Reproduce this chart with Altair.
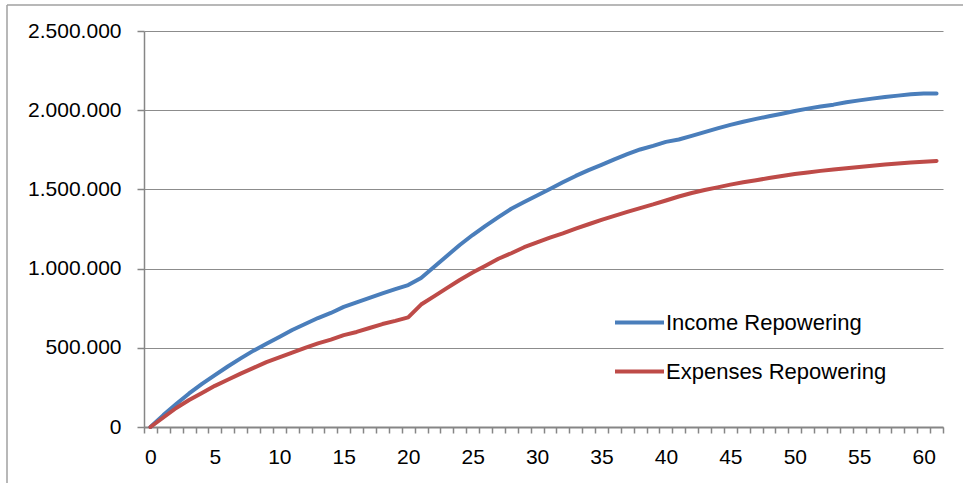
import altair as alt
import pandas as pd

# Year index of the project life (categories 0..61)
years = list(range(62))

# Cumulative income with repowering
income = [
    0, 75000, 145000, 212000, 272000, 328000, 382000, 433000, 482000, 526000,
    568000, 612000, 650000, 688000, 720000, 758000, 787000, 815000, 843000, 870000,
    896000, 941000, 1010000, 1080000, 1149000, 1212000, 1270000, 1325000, 1378000, 1420000,
    1462000, 1503000, 1545000, 1585000, 1622000, 1655000, 1690000, 1722000, 1752000, 1775000,
    1800000, 1815000, 1838000, 1862000, 1885000, 1907000, 1927000, 1945000, 1962000, 1978000,
    1995000, 2010000, 2023000, 2035000, 2050000, 2062000, 2073000, 2083000, 2092000, 2100000,
    2105000, 2106000,
]

# Cumulative expenses with repowering
expenses = [
    0, 60000, 120000, 170000, 215000, 260000, 298000, 337000, 373000, 410000,
    440000, 470000, 500000, 528000, 552000, 580000, 600000, 625000, 650000, 670000,
    692000, 773000, 825000, 877000, 928000, 975000, 1018000, 1062000, 1097000, 1135000,
    1165000, 1195000, 1222000, 1252000, 1280000, 1308000, 1333000, 1358000, 1382000, 1405000,
    1430000, 1455000, 1477000, 1496000, 1513000, 1530000, 1545000, 1558000, 1572000, 1585000,
    1597000, 1607000, 1617000, 1626000, 1634000, 1642000, 1650000, 1657000, 1664000, 1670000,
    1675000, 1680000,
]

series_names = ["Income Repowering", "Expenses Repowering"]
series_colors = ["#4A7EBB", "#BE4B48"]
y_ticks = [0, 500000, 1000000, 1500000, 2000000, 2500000]
x_label_step = 5

rows = []
for name, vals in zip(series_names, [income, expenses]):
    for yr, v in zip(years, vals):
        rows.append({"year": yr, "value": v, "series": name})
df = pd.DataFrame(rows)

FONT = "Liberation Sans"
AXIS_GREY = "#868686"

# category axis: ticks between categories, a label every 5th year
x_axis = alt.Axis(
    tickBand="extent",
    labelExpr=f"datum.value % {x_label_step} == 0 ? datum.label : ''",
    labelAngle=0,
    labelOverlap=False,
    labelBound=False,
    labelFlush=False,
    labelFont=FONT,
    labelFontSize=21,
    labelColor="#000000",
    labelPadding=13,
    tickSize=6,
    tickWidth=1.5,
    tickColor=AXIS_GREY,
    domainColor=AXIS_GREY,
    domainWidth=2,
    grid=False,
    title=None,
)

y_axis = alt.Axis(
    values=y_ticks,
    labelExpr="replace(replace(format(datum.value, ',d'), ',', '.'), ',', '.')",
    labelFont=FONT,
    labelFontSize=21,
    labelColor="#000000",
    labelPadding=16,
    tickSize=7,
    tickWidth=1.5,
    tickColor=AXIS_GREY,
    domainColor=AXIS_GREY,
    domainWidth=1.5,
    grid=True,
    gridColor="#8c8c8c",
    gridWidth=1.2,
    title=None,
)

lines = alt.Chart(df).mark_line(
    strokeWidth=4, strokeCap="round", strokeJoin="round"
).encode(
    x=alt.X(
        "year:O",
        scale=alt.Scale(type="band", paddingInner=0, paddingOuter=0),
        bandPosition=0.5,
        axis=x_axis,
    ),
    y=alt.Y(
        "value:Q",
        scale=alt.Scale(domain=[0, 2500000], nice=False),
        axis=y_axis,
    ),
    color=alt.Color(
        "series:N",
        scale=alt.Scale(domain=series_names, range=series_colors),
        sort=series_names,
        legend=alt.Legend(
            orient="none",
            legendX=469,
            legendY=265,
            title=None,
            symbolType="stroke",
            symbolSize=2401,
            symbolStrokeWidth=4,
            labelFont=FONT,
            labelFontSize=22,
            labelColor="#000000",
            labelOffset=0,
            labelLimit=0,
            rowPadding=11,
            padding=0,
        ),
    ),
    detail="series:N",
)

# light outer frame of the chart area
frame_df = pd.DataFrame({"k": [0]})
frame_left = alt.Chart(frame_df).mark_rule(color="#a0a0a0", strokeWidth=1.5).encode(
    x=alt.value(-137), y=alt.value(-26), y2=alt.value(460)
)
frame_top = alt.Chart(frame_df).mark_rule(color="#a0a0a0", strokeWidth=1.5).encode(
    x=alt.value(-137), x2=alt.value(830), y=alt.value(-26)
)

chart = alt.layer(frame_left, frame_top, lines).properties(
    width=799,
    height=396,
    autosize=alt.AutoSizeParams(type="none"),
    padding={"left": 144, "top": 31, "right": 20, "bottom": 56},
    background="#ffffff",
).configure_view(strokeWidth=0)

chart.save("out.html", embed_options={"renderer": "svg", "actions": False})
